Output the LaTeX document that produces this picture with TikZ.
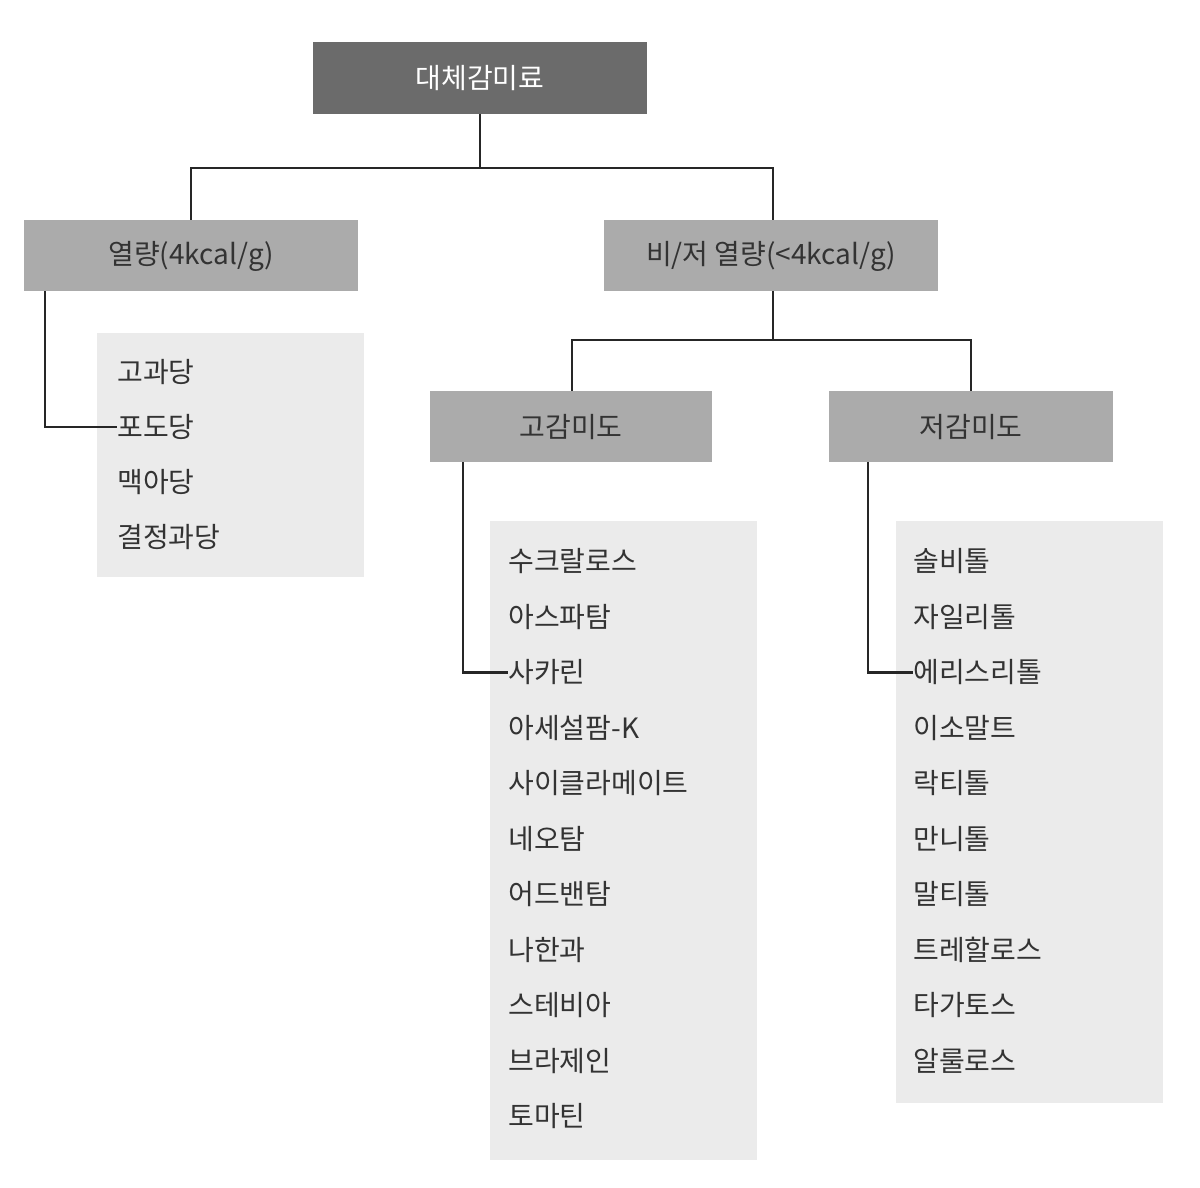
\documentclass[tikz,border=0pt]{standalone}
\usepackage{fontspec}
\setmainfont{Noto Sans CJK KR}
\begin{document}
\begin{tikzpicture}[x=0.5pt,y=-0.5pt,
  hbox/.style={fill=#1,draw=none,inner sep=0},
  lbl/.style={font=\fontsize{14}{16}\selectfont,text=black!80},
  item/.style={font=\fontsize{14}{16}\selectfont,text=black!80,anchor=west,inner sep=0},
  conn/.style={line width=1.4pt,black!85}]
\useasboundingbox (0,0) rectangle (1200,1188);
% boxes
\fill[black!58] (313,42) rectangle (647,114);
\node[lbl,text=white] (top) at (480,78) {대체감미료};
\fill[black!33] (24,220) rectangle (358,291);
\node[lbl] (hot) at (191,256) {열량(4kcal/g)};
\fill[black!33] (604,220) rectangle (938,291);
\node[lbl] (low) at (771,256) {비/저 열량(<4kcal/g)};
\fill[black!33] (430,391) rectangle (712,462);
\node[lbl] (hi) at (571,427) {고감미도};
\fill[black!33] (829,391) rectangle (1113,462);
\node[lbl] (lo) at (971,427) {저감미도};
\fill[black!8] (97,333) rectangle (364,577);
\fill[black!8] (490,521) rectangle (757,1160);
\fill[black!8] (896,521) rectangle (1163,1103);
% coordinates
\coordinate (tb) at (480,114);
\coordinate (hb) at (45,291);
\coordinate (lb) at (773,291);
\coordinate (gb) at (463,462);
\coordinate (jb) at (868,462);
% lists
\foreach \t [count=\i] in {고과당,포도당,맥아당,결정과당}
  \node[item] (a\i) at (117,317+55*\i) {\t};
\foreach \t [count=\i] in {수크랄로스,아스파탐,사카린,아세설팜-K,사이클라메이트,네오탐,어드밴탐,나한과,스테비아,브라제인,토마틴}
  \node[item] (b\i) at (508,506+55.5*\i) {\t};
\foreach \t [count=\i] in {솔비톨,자일리톨,에리스리톨,이소말트,락티톨,만니톨,말티톨,트레할로스,타가토스,알룰로스}
  \node[item] (c\i) at (913,506+55.5*\i) {\t};
% connectors
\draw[conn] (tb) -- (480,168) -| (191,220);
\draw[conn] (480,168) -| (773,220);
\draw[conn] (lb) -- (773,340) -| (572,391);
\draw[conn] (773,340) -| (971,391);
\draw[conn] (hb) |- (a2.west);
\draw[conn] (gb) |- (b3.west);
\draw[conn] (jb) |- (c3.west);
\end{tikzpicture}
\end{document}
